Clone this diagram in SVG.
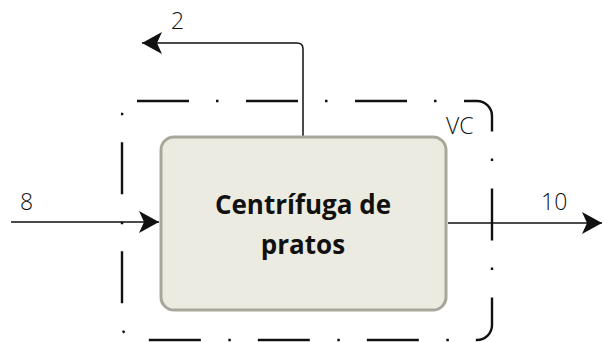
<svg xmlns="http://www.w3.org/2000/svg" width="603" height="342" viewBox="0 0 603 342">
  <style>
    .flow { fill: none; stroke: #111; stroke-width: 1.5; }
    .cv { fill: none; stroke: #111; stroke-width: 2.4; stroke-dasharray: 52 27 2.5 27.5; }
    .unit { fill: #ecebe1; stroke: #a9a79b; stroke-width: 3; }
    .lbl { font-family: "Open Sans", "Noto Sans", sans-serif; font-size: 23px; fill: #111; font-weight: 300; }
    .name { font-family: "Open Sans", "Noto Sans", sans-serif; font-size: 26px; font-weight: 700; fill: #111; text-anchor: middle; }
  </style>
  <defs>
    <marker id="arrow" markerUnits="userSpaceOnUse" markerWidth="24" markerHeight="26" viewBox="-22 -12 24 24" refX="0" refY="0" orient="auto">
      <path d="M0,0 L-20,-11 L-15,0 L-20,11 Z" fill="#111"/>
    </marker>
  </defs>

  <!-- control volume boundary -->
  <g id="control-volume">
    <path class="cv" d="M137,101 H477 A15,15 0 0 1 492,116 V325 A15,15 0 0 1 477,340 H137 A15,15 0 0 1 122,325 V116 A15,15 0 0 1 137,101 Z"/>
    <text class="lbl" x="446" y="134" font-size="21">VC</text>
  </g>

  <!-- stream lines -->
  <g id="connectors">
    <path class="flow" d="M11,222 H159" marker-end="url(#arrow)"/>
    <path class="flow" d="M448,223 H602" marker-end="url(#arrow)"/>
    <path class="flow" d="M303,136 V49 Q303,43 297,43 H142" marker-end="url(#arrow)"/>
  </g>

  <g id="stream-labels">
    <text class="lbl" x="20" y="210">8</text>
    <text class="lbl" x="541" y="210">10</text>
    <text class="lbl" x="171" y="29">2</text>
  </g>

  <!-- disc-stack centrifuge -->
  <g id="centrifuge">
    <rect class="unit" x="161" y="137" width="285" height="173" rx="13" ry="13"/>
    <text class="name" x="303" y="214">Centrífuga de</text>
    <text class="name" x="303" y="254">pratos</text>
  </g>
</svg>
